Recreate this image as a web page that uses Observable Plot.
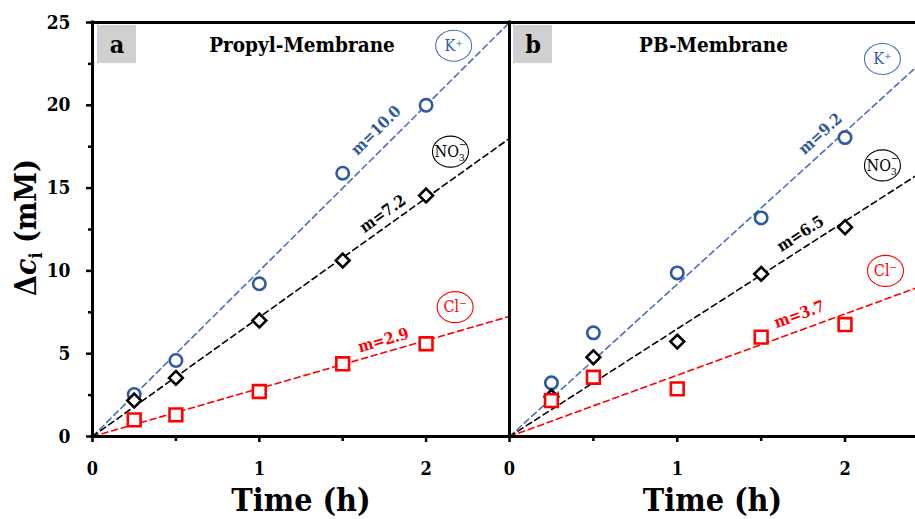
<!DOCTYPE html>
<html><head><meta charset="utf-8">
<script src="https://cdn.jsdelivr.net/npm/d3@7"></script>
<script src="https://cdn.jsdelivr.net/npm/@observablehq/plot@0.6"></script>
<style>
body{margin:0;background:#fff;overflow:hidden}
#wrap{position:relative;width:915px;height:519px;overflow:hidden}
#wrap svg{position:absolute;top:0}
</style></head>
<body><div id="wrap"></div>
<script>
// ---- data ----
const times = [0.25, 0.5, 1, 1.5, 2];
const propylK   = [2.54, 4.59, 9.22, 15.9, 20.0];
const propylNO3 = [2.17, 3.54, 7.0, 10.63, 14.55];
const propylCl  = [1.0, 1.31, 2.72, 4.39, 5.6];
const pbK   = [3.24, 6.26, 9.88, 13.2, 18.05];
const pbNO3 = [2.4, 4.79, 5.73, 9.82, 12.64];
const pbCl  = [2.17, 3.58, 2.88, 6.0, 6.76];
const ionNames = ["K⁺", "NO3-", "Cl⁻"];
const propylSlopes = [10.0, 7.2, 2.9];
const pbSlopes = [9.2, 6.5, 3.7];
const slopeLabels = s => s.map(m => "m=" + m.toFixed(1));
const yTicks = [0, 5, 10, 15, 20, 25];
const yMinor = [2.5, 7.5, 12.5, 17.5, 22.5];
const xTicks = [0, 1, 2];
const xMinor = [0.5, 1.5];
const panelLetters = ["a", "b"];
const panelTitles = ["Propyl-Membrane", "PB-Membrane"];
// annotation anchors (data units)
const propylIonPos = [[2.165, 23.6], [2.146, 17.2], [2.174, 7.81]];
const pbIonPos     = [[2.223, 22.8], [2.223, 16.37], [2.241, 10.0]];
const propylMPos = [[1.70, 18.48], [1.741, 13.45], [1.744, 5.80]];
const pbMPos     = [[1.853, 18.28], [1.734, 12.24], [1.728, 7.37]];
const titlePos = [[1.256, 23.6], [1.216, 23.6]];
const letterBox = [[0.03, 0.264, 22.52, 24.82], [0.024, 0.256, 22.52, 24.82]];

const markerColors = ["#2F5AA0", "#000000", "#FF0000"];
const lineColors = ["#4A70B8", "#000000", "#FF0000"];
const symbols = ["circle", "diamond2", "square"];
const symR = [6.2, 6.2, 7.2];
const SERIF = '"DejaVu Serif Condensed", "DejaVu Serif", serif';

// ellipse outline used behind the ion names
const ellipse = {
  draw(ctx) {
    const rx = 18, ry = 15.5, k = 0.5523;
    ctx.moveTo(rx, 0);
    ctx.bezierCurveTo(rx, ry * k, rx * k, ry, 0, ry);
    ctx.bezierCurveTo(-rx * k, ry, -rx, ry * k, -rx, 0);
    ctx.bezierCurveTo(-rx, -ry * k, -rx * k, -ry, 0, -ry);
    ctx.bezierCurveTo(rx * k, -ry, rx, -ry * k, rx, 0);
    ctx.closePath();
  }
};

const H = 519, MT = 22, MB = 83;

function panel(cfg) {
  const {idx, series, slopes, ionPos, mPos, xMax, width, marginLeft, marginRight, showY} = cfg;
  const kx = (width - marginLeft - marginRight) / xMax;
  const ky = (H - MT - MB) / 25;
  const marks = [];
  const b = letterBox[idx];
  marks.push(Plot.rect([b], {x1: d => d[0], x2: d => d[1], y1: d => d[2], y2: d => d[3], fill: "#D0D0D0"}));
  marks.push(Plot.text([panelLetters[idx]], {x: (b[0] + b[1]) / 2, y: (b[2] + b[3]) / 2, text: d => d, fontSize: 25, fontWeight: "bold", fill: "#000"}));
  marks.push(Plot.text([panelTitles[idx]], {x: titlePos[idx][0], y: titlePos[idx][1], text: d => d, fontSize: 20.5, fontWeight: "bold", fill: "#000"}));
  slopes.forEach((m, j) => {
    marks.push(Plot.line([[0, 0], [xMax, m * xMax]], {x: d => d[0], y: d => d[1], stroke: lineColors[j], strokeWidth: 1.6, strokeDasharray: "6,4", clip: true}));
  });
  series.forEach((vals, j) => {
    marks.push(Plot.dot(times.map((t, i) => [t, vals[i]]), {x: d => d[0], y: d => d[1], symbol: symbols[j], r: symR[j], stroke: markerColors[j], strokeWidth: 2.6, fill: "white"}));
  });
  slopeLabels(slopes).forEach((lab, j) => {
    const ang = -Math.atan(slopes[j] * ky / kx) * 180 / Math.PI;
    marks.push(Plot.text([lab], {x: mPos[j][0], y: mPos[j][1], text: d => d, rotate: ang, fontSize: 16, fontWeight: "bold", fill: markerColors[j]}));
  });
  ionNames.forEach((nm, j) => {
    marks.push(Plot.dot([ionPos[j]], {x: d => d[0], y: d => d[1], symbol: ellipse, r: 10, stroke: lineColors[j], strokeWidth: 1.1, fill: "white"}));
    marks.push(Plot.text([nm], {x: ionPos[j][0], y: ionPos[j][1], text: d => d, fontSize: 16, fill: markerColors[j]}));
  });
  marks.push(Plot.axisX(xTicks, {tickSize: 6, tickPadding: 20, fontSize: 18, fontWeight: "bold", strokeWidth: 2.5, label: null, tickFormat: d => String(d)}));
  marks.push(Plot.axisX(xMinor, {tickSize: 5, strokeWidth: 2.5, text: null, label: null}));
  if (showY) {
    marks.push(Plot.axisY(yTicks, {tickSize: 6, tickPadding: 16, fontSize: 19, fontWeight: "bold", strokeWidth: 2.5, label: null, tickFormat: d => String(d)}));
    marks.push(Plot.axisY(yMinor, {tickSize: 4, strokeWidth: 2.5, text: null, label: null}));
    marks.push(Plot.text(["DELTA_C_I"], {frameAnchor: "left", dx: -66, dy: -2, rotate: -90, text: d => d, fontSize: 30, fontWeight: "bold", lineAnchor: "middle", textAnchor: "middle"}));
  }
  marks.push(Plot.text(["Time (h)"], {frameAnchor: "bottom", dy: 64, text: d => d, fontSize: 32, fontWeight: "bold", lineAnchor: "middle", textAnchor: "middle"}));
  marks.push(Plot.ruleX([0], {stroke: "#000", strokeWidth: 3, strokeLinecap: "square"}));
  marks.push(Plot.ruleY([0], {stroke: "#000", strokeWidth: 3, strokeLinecap: "square"}));
  marks.push(Plot.ruleY([25], {stroke: "#000", strokeWidth: 3, strokeLinecap: "square"}));

  const svg = Plot.plot({
    width, height: H, marginLeft, marginRight, marginTop: MT, marginBottom: MB,
    x: {domain: [0, xMax], axis: null},
    y: {domain: [0, 25], axis: null},
    style: {fontFamily: SERIF, background: "transparent", color: "#000", overflow: "visible"},
    marks
  });
  d3.select(svg).selectAll("text").each(function() {
    const t = d3.select(this);
    if (this.textContent === "NO3-") {
      t.text(null);
      t.append("tspan").text("NO");
      t.append("tspan").attr("font-size", 10).attr("dy", "0.45em").text("3");
      t.append("tspan").attr("font-size", 10).attr("dx", "-0.6em").attr("dy", "-1.35em").text("−");
    } else if (this.textContent === "DELTA_C_I") {
      t.text(null);
      t.append("tspan").text("Δ");
      t.append("tspan").attr("font-style", "italic").text("c");
      t.append("tspan").attr("font-size", 18).attr("dy", "0.3em").text("i");
      t.append("tspan").attr("dy", "-0.18em").text(" (mM)");
    }
  });
  return svg;
}

const wrap = document.getElementById("wrap");
const a = panel({idx: 0, series: [propylK, propylNO3, propylCl], slopes: propylSlopes, ionPos: propylIonPos, mPos: propylMPos, xMax: 2.5, width: 510, marginLeft: 92, marginRight: 1, showY: true});
a.style.left = "0px";
const b = panel({idx: 1, series: [pbK, pbNO3, pbCl], slopes: pbSlopes, ionPos: pbIonPos, mPos: pbMPos, xMax: 2.42, width: 408, marginLeft: 2, marginRight: 0, showY: false});
b.style.left = "507px";
wrap.appendChild(a);
wrap.appendChild(b);
</script>
</body></html>
